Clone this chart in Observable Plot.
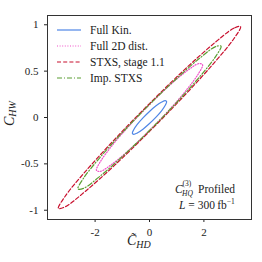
<!DOCTYPE html>
<html><head><meta charset="utf-8">
<script src="https://cdn.jsdelivr.net/npm/d3@7"></script>
<script src="https://cdn.jsdelivr.net/npm/@observablehq/plot@0.6"></script>
<style>body{margin:0;background:#fff}</style>
</head><body><div id="chart"></div>
<script>
// contour points [C~HD, CHW]
const fullKin = [[0.63,0.17],[0.58,0.182],[0.45,0.167],[0.24,0.126],[0,0.065],[-0.24,-0.004],[-0.45,-0.075],[-0.58,-0.132],
                 [-0.63,-0.17],[-0.58,-0.182],[-0.45,-0.167],[-0.24,-0.126],[0,-0.065],[0.24,0.004],[0.45,0.075],[0.58,0.132]];
const full2D = [[1.95,0.57],[1.80,0.58],[1.38,0.503],[0.75,0.35],[0,0.14],[-0.75,-0.09],[-1.38,-0.305],[-1.80,-0.473],
                [-1.95,-0.57],[-1.80,-0.58],[-1.38,-0.503],[-0.75,-0.35],[0,-0.14],[0.75,0.09],[1.38,0.305],[1.80,0.473]];
const stxs11 = [[3.35,0.98],[3.10,0.963],[2.37,0.799],[1.28,0.514],[0,0.15],[-1.28,-0.236],[-2.37,-0.587],[-3.10,-0.849],
                [-3.35,-0.98],[-3.10,-0.963],[-2.37,-0.799],[-1.28,-0.514],[0,-0.15],[1.28,0.236],[2.37,0.587],[3.10,0.849]];
const impStxs = [[2.63,0.77],[2.43,0.765],[1.86,0.643],[1.01,0.424],[0,0.14],[-1.01,-0.166],[-1.86,-0.445],[-2.43,-0.657],
                 [-2.63,-0.77],[-2.43,-0.765],[-1.86,-0.643],[-1.01,-0.424],[0,-0.14],[1.01,0.166],[1.86,0.445],[2.43,0.657]];
const seriesNames = ["Full Kin.", "Full 2D dist.", "STXS, stage 1.1", "Imp. STXS"];
const seriesData = [fullKin, full2D, stxs11, impStxs];
const seriesColors = ["#4f86e6", "#f050c8", "#c8102e", "#5a9e32"];
const seriesDash = [null, "1,1.6", "4,2.2", "5,2,1,2"];
const xTicks = [-2, 0, 2];
const yTicks = [-1, -0.5, 0, 0.5, 1];

const serif = "'Liberation Serif', 'DejaVu Serif', serif";
const plot = Plot.plot({
  width: 262, height: 262,
  marginLeft: 47, marginRight: 11, marginTop: 15, marginBottom: 43,
  style: {fontFamily: serif, fontSize: "11px", background: "#fff", color: "#222"},
  x: {domain: [-3.75, 3.75], ticks: xTicks, tickFormat: d => String(d), label: null, tickSize: 3},
  y: {domain: [-1.1, 1.1], ticks: yTicks, tickFormat: d => String(d), label: null, tickSize: 3},
  marks: [
    ...seriesData.map((pts, i) => Plot.line(pts, {
      x: d => d[0], y: d => d[1], curve: "catmull-rom-closed",
      stroke: seriesColors[i], strokeWidth: 1.2, strokeDasharray: seriesDash[i]
    })),
    Plot.frame({stroke: "#333", strokeWidth: 1})
  ]
});
document.getElementById("chart").appendChild(plot);

const svg = d3.select(plot);
const txt = (parent, x, y, size) => parent.append("text").attr("x", x).attr("y", y)
  .attr("text-anchor", "start").style("font-family", serif).style("font-size", size + "px").attr("fill", "#222");
// legend
const lg = svg.append("g");
seriesNames.forEach((name, i) => {
  const y = 30 + i * 16;
  lg.append("line").attr("x1", 57).attr("x2", 81).attr("y1", y).attr("y2", y)
    .attr("stroke", seriesColors[i]).attr("stroke-width", 1.2)
    .attr("stroke-dasharray", seriesDash[i]);
  txt(lg, 90, y + 3.8, 11.5).text(name);
});
// axis labels
const xl = txt(svg, 127, 245, 14).style("font-style", "italic");
xl.append("tspan").text("C\u0303");
xl.append("tspan").style("font-size", "10px").attr("dy", 3).text("HD");
const yl = svg.append("text").attr("transform", "translate(13.5,126) rotate(-90)").attr("text-anchor", "start")
  .style("font-family", serif).style("font-style", "italic").style("font-size", "14px").attr("fill", "#222");
yl.append("tspan").text("C");
yl.append("tspan").style("font-size", "10px").attr("dy", 2.5).text("HW");
// annotation
txt(svg, 175, 192.5, 11.5).style("font-style", "italic").text("C");
txt(svg, 182.5, 186, 7.5).text("(3)");
txt(svg, 182, 196, 7.5).style("font-style", "italic").text("HQ");
txt(svg, 198, 192.5, 11.5).text("Profiled");
const l2 = txt(svg, 179, 208.7, 11.5);
l2.append("tspan").style("font-style", "italic").text("L");
l2.append("tspan").text(" = 300\u2009fb");
l2.append("tspan").style("font-size", "7.5px").attr("dy", -4.5).text("\u22121");
</script></body></html>
